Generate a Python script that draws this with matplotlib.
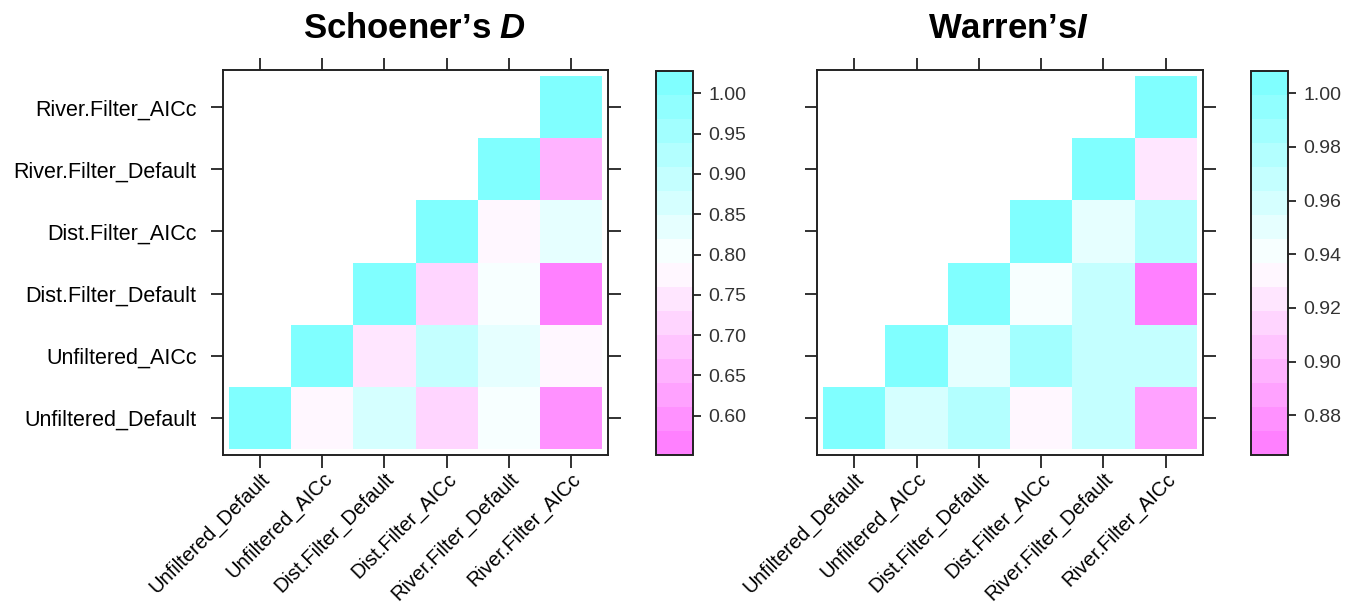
import numpy as np
import matplotlib
matplotlib.use('Agg')
import matplotlib.pyplot as plt
from matplotlib.colors import LinearSegmentedColormap, ListedColormap, BoundaryNorm

plt.rcParams['font.family'] = ['Liberation Sans', 'DejaVu Sans']
plt.rcParams['mathtext.fontset'] = 'custom'
plt.rcParams['mathtext.bf'] = 'Liberation Sans:italic:bold'

models = ['Unfiltered_Default', 'Unfiltered_AICc', 'Dist.Filter_Default',
          'Dist.Filter_AICc', 'River.Filter_Default', 'River.Filter_AICc']

# rows = y (bottom to top), cols = x; nan = not drawn
schoener_d = [
    [1.000, 0.775, 0.864, 0.715, 0.804, 0.596],
    [np.nan, 1.000, 0.745, 0.894, 0.834, 0.775],
    [np.nan, np.nan, 1.000, 0.715, 0.804, 0.566],
    [np.nan, np.nan, np.nan, 1.000, 0.775, 0.834],
    [np.nan, np.nan, np.nan, np.nan, 1.000, 0.655],
    [np.nan, np.nan, np.nan, np.nan, np.nan, 1.000],
]
warren_i = [
    [1.000, 0.959, 0.977, 0.932, 0.968, 0.888],
    [np.nan, 1.000, 0.950, 0.986, 0.968, 0.968],
    [np.nan, np.nan, 1.000, 0.941, 0.968, 0.870],
    [np.nan, np.nan, np.nan, 1.000, 0.950, 0.977],
    [np.nan, np.nan, np.nan, np.nan, 1.000, 0.923],
    [np.nan, np.nan, np.nan, np.nan, np.nan, 1.000],
]
d_limits = (0.551, 1.028)
i_limits = (0.8651, 1.0084)
d_ticks = [0.60, 0.65, 0.70, 0.75, 0.80, 0.85, 0.90, 0.95, 1.00]
i_ticks = [0.88, 0.90, 0.92, 0.94, 0.96, 0.98, 1.00]

# lattice default regions palette: pink -> white -> cyan, 16 bands
ramp = LinearSegmentedColormap.from_list('lat', ['#FF80FF', '#FFFFFF', '#80FFFF'])
cmap = ListedColormap([ramp(k / 15) for k in range(16)])

W, H = 1358, 610
fig = plt.figure(figsize=(W / 100, H / 100), dpi=100)

def px(x0, y0, x1, y1):
    return [x0 / W, 1 - y1 / H, (x1 - x0) / W, (y1 - y0) / H]

def panel(ax_box, cb_box, data, limits, ticks, title, title_x, ylabels):
    ax = fig.add_axes(ax_box)
    edges = np.linspace(limits[0], limits[1], 17)
    norm = BoundaryNorm(edges, cmap.N)
    z = np.ma.masked_invalid(np.array(data))
    e = np.arange(len(models) + 1) - 0.5
    mesh = ax.pcolormesh(e, e, z, cmap=cmap, norm=norm, edgecolors='none')
    ax.set_xlim(-0.6, len(models) - 0.4)
    ax.set_ylim(-0.6, len(models) - 0.4)
    ax.set_xticks(range(len(models)))
    ax.set_yticks(range(len(models)))
    ax.set_xticklabels(models, rotation=45, ha='right', va='top',
                       rotation_mode='anchor', fontsize=14.5)
    if ylabels:
        ax.set_yticklabels(models, fontsize=15.5)
    else:
        ax.set_yticklabels([])
    ax.tick_params(direction='out', length=9, width=1.3, color='#222222',
                   top=True, right=True)
    ax.tick_params(axis='x', pad=1)
    ax.tick_params(axis='y', pad=10)
    for s in ax.spines.values():
        s.set_linewidth(1.4)
        s.set_color('#222222')

    cax = fig.add_axes(cb_box)
    cb = fig.colorbar(mesh, cax=cax, ticks=ticks)
    cb.ax.minorticks_off()
    cb.ax.set_yticklabels(['%.2f' % t for t in ticks], fontsize=14, color='#333333')
    cb.ax.tick_params(length=6, width=1.3, color='#222222', pad=5)
    cb.outline.set_linewidth(1.4)
    cb.outline.set_edgecolor('#222222')

    fig.text(title_x, 1 - 28 / H, title, ha='center', va='center',
             fontsize=25, fontweight='bold')

panel(px(223, 70, 608, 455), px(656, 70.7, 693, 455.3), schoener_d, d_limits,
      d_ticks, r"Schoener’s $\mathbf{D}$", 415 / W, True)
panel(px(817, 70, 1203, 455), px(1251, 70.7, 1288, 455.3), warren_i, i_limits,
      i_ticks, r"Warren’s$\mathbf{I}$", 1008 / W, False)

fig.savefig('out.png', dpi=100)
